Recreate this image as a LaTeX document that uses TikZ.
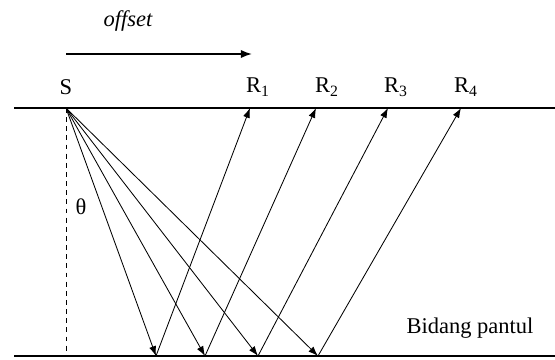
\documentclass[tikz,border=0pt]{standalone}
\usepackage{fontspec}
\setmainfont{Liberation Serif}
\usetikzlibrary{arrows.meta,positioning}

\begin{document}
\begin{tikzpicture}[
  x=0.025cm, y=-0.025cm,
  surface/.style={line width=1.1pt},
  ray/.style={-{Latex[length=7pt,width=5pt]}, line width=0.6pt},
  label/.style={font=\fontsize{16}{18}\selectfont, inner sep=0pt}
]
\useasboundingbox (0,0) rectangle (555,360);

% Surface and reflector
\coordinate (topL) at (14,108);
\coordinate (topR) at (555,108);
\coordinate (botL) at (14,356);
\coordinate (botR) at (555,356);
\draw[surface] (topL) -- (topR);
\draw[surface] (botL) -- (botR);

% Source, receivers and reflection points
\coordinate (S) at (66,108);
\coordinate (R1) at (250,108);
\coordinate (R2) at (316,108);
\coordinate (R3) at (388,108);
\coordinate (R4) at (461,108);
\coordinate (P1) at (156,356);
\coordinate (P2) at (205,356);
\coordinate (P3) at (258,356);
\coordinate (P4) at (318,356);
\coordinate (N) at (66,356);

% Labels
\node[label] (lS) at (66,87) {S};
\node[label] (lR1) at (258,87) {R\textsubscript{1}};
\node[label] (lR2) at (327,87) {R\textsubscript{2}};
\node[label] (lR3) at (396,87) {R\textsubscript{3}};
\node[label] (lR4) at (466,87) {R\textsubscript{4}};
\node[label] (theta) at (81,207) {θ};
\node[label] (plane) at (470,328) {Bidang pantul};

% Offset
\coordinate (offA) at (66,54);
\coordinate (offB) at (252,54);
\node[label, font=\fontsize{16}{18}\selectfont\itshape] (offset) at (128,21) {offset};
\draw[-{Latex[length=8pt,width=6pt]}, line width=1.2pt] (offA) -- (offB);

% Normal
\draw[dash pattern=on 3.5pt off 3pt, line width=0.7pt] (S) -- (N);

% Rays
\draw[ray] (S) -- (P1);
\draw[ray] (S) -- (P2);
\draw[ray] (S) -- (P3);
\draw[ray] (S) -- (P4);
\draw[ray] (P1) -- (R1);
\draw[ray] (P2) -- (R2);
\draw[ray] (P3) -- (R3);
\draw[ray] (P4) -- (R4);

\end{tikzpicture}
\end{document}
